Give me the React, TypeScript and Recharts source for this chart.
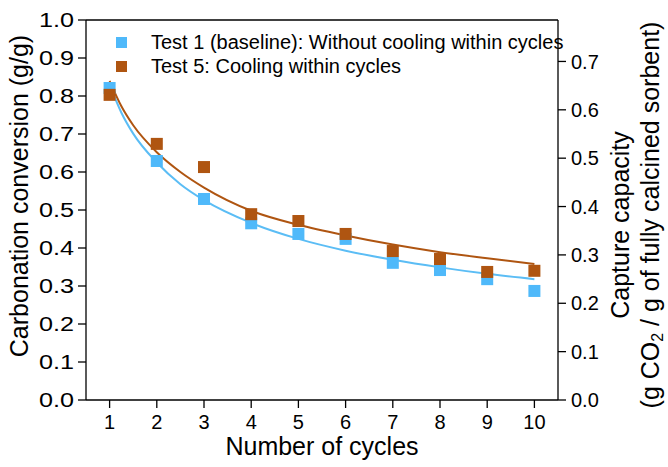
import React from 'react';
import {
  ComposedChart,
  Scatter,
  Line,
  XAxis,
  YAxis,
  Legend,
  ReferenceLine,
} from 'recharts';

// measured points
const cycles = [1, 2, 3, 4, 5, 6, 7, 8, 9, 10];
const test1 = [0.821, 0.629, 0.529, 0.465, 0.437, 0.424, 0.361, 0.342, 0.318, 0.287];
const test5 = [0.803, 0.674, 0.613, 0.489, 0.471, 0.437, 0.392, 0.371, 0.337, 0.34];

// fitted trend lines
const fitX = [1, 1.25, 1.5, 2, 2.5, 3, 4, 5, 6, 7, 8, 9, 10];
const fit1 = [0.83, 0.756, 0.701, 0.625, 0.568, 0.526, 0.466, 0.424, 0.393, 0.369, 0.349, 0.332, 0.318];
const fit5 = [0.84, 0.773, 0.723, 0.652, 0.6, 0.559, 0.498, 0.461, 0.433, 0.409, 0.389, 0.373, 0.358];

const leftTicks = [0, 0.1, 0.2, 0.3, 0.4, 0.5, 0.6, 0.7, 0.8, 0.9, 1.0];
const rightTicks = [0, 0.1, 0.2, 0.3, 0.4, 0.5, 0.6, 0.7];
const seriesNames = ['Test 1 (baseline): Without cooling within cycles', 'Test 5: Cooling within cycles'];

const BLUE = '#4fb9fa';
const BROWN = '#af5511';
const FONT = '"Liberation Sans", Arial, sans-serif';

const pts1 = cycles.map((x, i) => ({ x, y: test1[i] }));
const pts5 = cycles.map((x, i) => ({ x, y: test5[i] }));
const line1 = fitX.map((x, i) => ({ x, y: fit1[i] }));
const line5 = fitX.map((x, i) => ({ x, y: fit5[i] }));

const square = (color: string) => (p: any) => (
  <rect x={p.cx - 6} y={p.cy - 6} width={12} height={12} fill={color} />
);

const tickStyle = { fontSize: 20, fill: '#000', fontFamily: FONT };
const axisLine = { stroke: '#000', strokeWidth: 1.3 };

// left tick labels are drawn a bit wider in the original
const LeftTick = (p: any) => (
  <text
    transform={`translate(${p.x}, ${p.y}) scale(1.2, 1)`}
    textAnchor="end"
    dy="0.355em"
    fontSize={21}
    fontFamily={FONT}
    fill="#000"
  >
    {Number(p.payload.value).toFixed(1)}
  </text>
);

const LegendBox = () => (
  <div style={{ fontFamily: FONT, fontSize: 20, color: '#000' }}>
    {seriesNames.map((name, i) => (
      <div key={name} style={{ position: 'relative', height: 24, lineHeight: '24px', whiteSpace: 'nowrap' }}>
        <span
          style={{
            position: 'absolute', left: 0, top: 7, width: 11, height: 11,
            background: i === 0 ? BLUE : BROWN,
          }}
        />
        <span style={{ marginLeft: 35 }}>{name}</span>
      </div>
    ))}
  </div>
);

export default function App() {
  return (
    <div style={{ position: 'absolute', left: 0, top: 0, width: 668, height: 467, background: '#fff', fontFamily: FONT }}>
      <ComposedChart width={668} height={467} margin={{ top: 20, right: 0, left: 0, bottom: 0 }}>
        <XAxis
          dataKey="x"
          type="number"
          domain={[0.5, 10.5]}
          ticks={cycles}
          height={67}
          tickSize={8}
          tickMargin={7}
          tick={tickStyle}
          axisLine={axisLine}
          tickLine={axisLine}
          allowDataOverflow
          label={{
            content: () => (
              <text x={322} y={455} textAnchor="middle" fontSize={25} fontFamily={FONT} fill="#000">
                Number of cycles
              </text>
            ),
          }}
        />
        <YAxis
          yAxisId="left"
          type="number"
          domain={[0, 1]}
          ticks={leftTicks}
          width={86}
          tickSize={8}
          tickMargin={4}
          tick={<LeftTick />}
          axisLine={axisLine}
          tickLine={axisLine}
          label={{
            content: () => (
              <text x={28} y={196} transform="rotate(-90, 28, 196)" textAnchor="middle" fontSize={25} fontFamily={FONT} fill="#000">
                Carbonation conversion (g/g)
              </text>
            ),
          }}
        />
        <YAxis
          yAxisId="right"
          orientation="right"
          type="number"
          domain={[0, 0.7857]}
          ticks={rightTicks}
          width={110}
          tickSize={8}
          tickMargin={5}
          tick={tickStyle}
          axisLine={axisLine}
          tickLine={axisLine}
          allowDataOverflow
          tickFormatter={(v: number) => v.toFixed(1)}
          label={{
            content: () => (
              <g fontSize={25} fontFamily={FONT} fill="#000">
                <text x={629} y={225} transform="rotate(-90, 629, 225)" textAnchor="middle">
                  Capture capacity
                </text>
                <text x={659} y={215} transform="rotate(-90, 659, 215)" textAnchor="middle">
                  (g CO<tspan fontSize={16} dy={4}>2</tspan>
                  <tspan dy={-4}> / g of fully calcined sorbent)</tspan>
                </text>
              </g>
            ),
          }}
        />
        <ReferenceLine yAxisId="left" y={1} stroke="#000" strokeWidth={1.3} />
        <Legend
          layout="horizontal"
          verticalAlign="middle"
          align="center"
          wrapperStyle={{ position: 'absolute', left: 116, top: 30, width: 'auto', height: 'auto' }}
          content={() => <LegendBox />}
        />
        <Scatter yAxisId="left" data={pts1} dataKey="y" shape={square(BLUE)} isAnimationActive={false} />
        <Scatter yAxisId="left" data={pts5} dataKey="y" shape={square(BROWN)} isAnimationActive={false} />
        <Line
          yAxisId="left"
          data={line1}
          dataKey="y"
          type="monotone"
          stroke="#5bbdf5"
          strokeWidth={2}
          dot={false}
          activeDot={false}
          isAnimationActive={false}
        />
        <Line
          yAxisId="left"
          data={line5}
          dataKey="y"
          type="monotone"
          stroke={BROWN}
          strokeWidth={2}
          dot={false}
          activeDot={false}
          isAnimationActive={false}
        />
      </ComposedChart>
    </div>
  );
}
